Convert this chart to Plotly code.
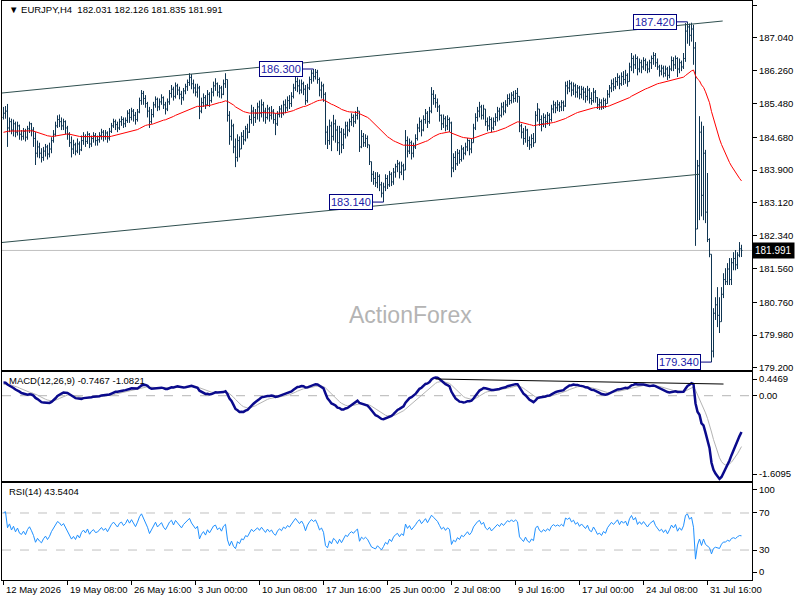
import plotly.graph_objects as go

# EURJPY H4 bars (open of each bar = previous close)
first_open = 185.15

close = [
    185.25, 185.30, 184.90, 185.05, 184.85, 185.00, 184.80, 184.95, 184.75, 184.70,
    184.82, 184.68, 184.88, 185.00, 184.85, 184.65, 184.30, 184.45, 184.30, 184.20,
    184.35, 184.45, 184.28, 184.40, 184.60, 184.75, 184.95, 185.10, 185.05, 184.95,
    185.05, 184.90, 184.75, 184.55, 184.40, 184.50, 184.35, 184.52, 184.38, 184.60,
    184.70, 184.58, 184.75, 184.52, 184.65, 184.72, 184.60, 184.62, 184.72, 184.80,
    184.70, 184.78, 184.66, 184.82, 184.95, 185.05, 184.98, 184.90, 185.05, 185.10,
    185.00, 185.08, 185.25, 185.15, 185.30, 185.20, 185.10, 185.28, 185.55, 185.72,
    185.60, 185.48, 185.30, 185.05, 185.22, 185.45, 185.58, 185.40, 185.52, 185.62,
    185.45, 185.35, 185.52, 185.72, 185.82, 185.65, 185.90, 185.80, 185.70, 185.62,
    185.78, 185.88, 185.98, 186.10, 185.95, 185.85, 185.75, 185.85, 185.30, 185.50,
    185.62, 185.45, 185.70, 185.55, 185.75, 185.90, 185.95, 185.75, 185.85, 185.70,
    185.95, 186.05, 185.20, 184.70, 184.95, 184.45, 184.20, 184.60, 184.40, 184.70,
    184.62, 184.88, 184.80, 185.10, 185.30, 185.15, 185.25, 185.40, 185.25, 185.45,
    185.30, 185.15, 185.35, 185.20, 185.30, 185.10, 185.00, 185.22, 185.35, 185.25,
    185.45, 185.38, 185.55, 185.48, 185.65, 185.85, 186.00, 185.90, 185.80, 185.95,
    185.82, 185.55, 185.85, 186.05, 186.20, 186.12, 186.22, 186.05, 185.80, 185.90,
    185.70, 184.80, 184.60, 184.95, 184.70, 185.00, 184.85, 184.55, 184.80, 184.50,
    184.75, 184.95, 184.85, 185.05, 185.15, 185.05, 185.20, 185.30, 184.45, 184.70,
    184.55, 184.65, 184.50, 184.10, 183.80, 183.70, 183.60, 183.75, 183.55, 183.35,
    183.50, 183.70, 183.55, 183.80, 183.62, 183.85, 183.98, 184.05, 183.85, 184.00,
    183.90, 184.60, 184.35, 184.55, 184.30, 184.45, 184.65, 184.90, 185.05, 184.85,
    185.10, 185.25, 185.05, 185.30, 185.70, 185.60, 185.50, 185.40, 185.20, 185.00,
    185.12, 184.95, 185.10, 185.02, 183.95, 184.20, 184.05, 184.30, 184.15, 184.40,
    184.30, 184.45, 184.60, 184.40, 184.55, 184.90, 185.15, 185.30, 185.40, 185.20,
    185.35, 185.05, 184.95, 185.10, 184.90, 185.05, 185.15, 185.30, 185.20, 185.40,
    185.30, 185.45, 185.60, 185.55, 185.68, 185.60, 185.72, 185.65, 184.95, 184.80,
    184.65, 184.85, 184.60, 184.50, 184.65, 184.55, 185.20, 185.35, 185.10, 185.00,
    185.15, 185.05, 185.20, 185.10, 185.35, 185.45, 185.38, 185.45, 185.40, 185.50,
    185.42, 185.90, 185.85, 185.95, 185.80, 185.90, 185.75, 185.85, 185.70, 185.82,
    185.75, 185.65, 185.80, 185.60, 185.55, 185.75, 185.62, 185.45, 185.50, 185.40,
    185.55, 185.48, 185.70, 185.85, 185.95, 185.88, 186.00, 186.10, 185.95, 186.12,
    186.05, 186.15, 186.00, 186.35, 186.55, 186.40, 186.55, 186.30, 186.45, 186.35,
    186.50, 186.40, 186.30, 186.45, 186.55, 186.62, 186.45, 186.35, 186.25, 186.32,
    186.20, 186.30, 186.15, 186.30, 186.50, 186.40, 186.55, 186.30, 186.45, 186.35,
    186.55, 187.20, 187.30, 187.10, 187.25, 186.80, 182.50, 184.00, 184.80, 183.30,
    184.30, 182.90, 182.25, 181.90, 179.60, 180.50, 180.70, 180.45, 180.30, 180.95,
    181.30, 181.25, 181.55, 181.30, 181.70, 181.80, 181.65, 181.88, 182.031, 181.991,
]

high = [
    185.40, 185.42, 185.47, 185.15, 185.12, 185.10, 185.05, 185.05, 184.98, 184.85,
    184.90, 184.88, 184.95, 185.05, 185.02, 184.92, 184.80, 184.60, 184.55, 184.42,
    184.45, 184.52, 184.50, 184.55, 184.68, 184.85, 185.05, 185.20, 185.22, 185.15,
    185.12, 185.08, 184.95, 184.80, 184.70, 184.62, 184.55, 184.65, 184.58, 184.72,
    184.80, 184.75, 184.82, 184.78, 184.72, 184.80, 184.78, 184.72, 184.80, 184.88,
    184.85, 184.85, 184.82, 184.90, 185.02, 185.12, 185.10, 185.05, 185.12, 185.18,
    185.15, 185.15, 185.32, 185.35, 185.38, 185.35, 185.28, 185.35, 185.62, 185.80,
    185.78, 185.68, 185.52, 185.40, 185.35, 185.52, 185.65, 185.62, 185.60, 185.70,
    185.65, 185.52, 185.60, 185.80, 185.92, 185.88, 185.98, 185.95, 185.88, 185.78,
    185.85, 185.95, 186.05, 186.20, 186.18, 186.05, 185.95, 185.95, 185.90, 185.62,
    185.72, 185.68, 185.80, 185.75, 185.85, 186.00, 186.08, 185.98, 185.92, 185.90,
    186.05, 186.20, 186.00, 185.30, 185.10, 185.00, 184.65, 184.75, 184.70, 184.80,
    184.85, 184.95, 185.00, 185.20, 185.45, 185.40, 185.35, 185.50, 185.55, 185.58,
    185.52, 185.38, 185.45, 185.40, 185.42, 185.35, 185.25, 185.30, 185.42, 185.45,
    185.55, 185.58, 185.65, 185.68, 185.75, 185.95, 186.12, 186.10, 186.05, 186.05,
    186.00, 185.92, 185.95, 186.12, 186.28, 186.30, 186.30, 186.28, 186.10, 186.00,
    185.95, 185.75, 184.95, 185.10, 185.05, 185.21, 185.10, 184.95, 184.95, 184.90,
    184.88, 185.05, 185.05, 185.12, 185.25, 185.22, 185.30, 185.40, 185.28, 184.85,
    184.78, 184.75, 184.72, 184.45, 183.95, 183.88, 183.85, 183.85, 183.80, 183.62,
    183.60, 183.80, 183.78, 183.88, 183.85, 183.95, 184.05, 184.14, 184.10, 184.10,
    184.05, 184.85, 184.70, 184.65, 184.60, 184.55, 184.75, 185.00, 185.15, 185.10,
    185.20, 185.35, 185.30, 185.40, 185.87, 185.80, 185.70, 185.60, 185.45, 185.22,
    185.22, 185.18, 185.20, 185.15, 185.05, 184.30, 184.35, 184.40, 184.38, 184.49,
    184.45, 184.55, 184.66, 184.62, 184.65, 185.00, 185.25, 185.40, 185.52, 185.45,
    185.45, 185.30, 185.15, 185.18, 185.15, 185.15, 185.25, 185.40, 185.38, 185.50,
    185.52, 185.56, 185.70, 185.72, 185.75, 185.78, 185.80, 185.85, 185.55, 185.00,
    184.90, 184.95, 184.88, 184.70, 184.75, 184.78, 185.30, 185.49, 185.33, 185.20,
    185.25, 185.22, 185.28, 185.25, 185.45, 185.55, 185.52, 185.56, 185.52, 185.56,
    185.55, 186.00, 186.02, 186.04, 186.00, 185.98, 185.95, 185.92, 185.90, 185.90,
    185.88, 185.85, 185.90, 185.85, 185.75, 185.85, 185.80, 185.63, 185.60, 185.58,
    185.62, 185.60, 185.80, 185.92, 186.05, 186.08, 186.11, 186.20, 186.15, 186.22,
    186.25, 186.28, 186.20, 186.45, 186.68, 186.62, 186.65, 186.60, 186.55, 186.52,
    186.58, 186.55, 186.48, 186.52, 186.62, 186.70, 186.68, 186.55, 186.40, 186.40,
    186.38, 186.38, 186.35, 186.38, 186.60, 186.58, 186.62, 186.58, 186.55, 186.50,
    186.68, 187.39, 187.42, 187.38, 187.40, 187.35, 186.94, 184.14, 185.18, 185.05,
    184.95, 184.38, 183.83, 182.28, 181.83, 180.62, 180.88, 181.12, 180.88, 181.12,
    181.45, 181.57, 181.69, 181.81, 181.81, 181.95, 182.00, 181.95, 182.19, 182.126,
]

low = [
    185.10, 185.12, 184.45, 184.80, 184.75, 184.70, 184.68, 184.72, 184.62, 184.60,
    184.62, 184.58, 184.62, 184.78, 184.70, 184.45, 184.02, 184.20, 184.18, 184.08,
    184.12, 184.22, 184.15, 184.20, 184.30, 184.55, 184.70, 184.90, 184.92, 184.85,
    184.85, 184.75, 184.62, 184.45, 184.20, 184.28, 184.25, 184.30, 184.26, 184.35,
    184.50, 184.45, 184.52, 184.42, 184.45, 184.55, 184.48, 184.48, 184.55, 184.62,
    184.58, 184.62, 184.55, 184.60, 184.78, 184.90, 184.85, 184.80, 184.85, 184.95,
    184.90, 184.92, 185.02, 185.02, 185.08, 185.05, 184.98, 185.05, 185.25, 185.45,
    185.45, 185.38, 185.15, 184.90, 185.00, 185.15, 185.38, 185.30, 185.32, 185.45,
    185.35, 185.22, 185.30, 185.45, 185.62, 185.55, 185.60, 185.68, 185.58, 185.45,
    185.55, 185.70, 185.78, 185.90, 185.82, 185.72, 185.65, 185.62, 185.11, 185.25,
    185.40, 185.35, 185.42, 185.40, 185.50, 185.65, 185.78, 185.65, 185.62, 185.60,
    185.68, 185.85, 185.05, 184.50, 184.60, 184.30, 183.97, 184.10, 184.20, 184.40,
    184.50, 184.58, 184.65, 184.78, 185.00, 184.95, 185.02, 185.10, 185.05, 185.15,
    185.05, 185.00, 185.10, 185.05, 185.10, 185.00, 184.73, 184.95, 185.15, 185.14,
    185.20, 185.25, 185.30, 185.35, 185.40, 185.60, 185.78, 185.75, 185.70, 185.72,
    185.68, 185.45, 185.50, 185.80, 185.95, 186.00, 186.05, 185.95, 185.65, 185.60,
    185.52, 184.50, 184.40, 184.50, 184.35, 184.60, 184.55, 184.35, 184.26, 184.30,
    184.40, 184.65, 184.70, 184.80, 184.95, 184.92, 185.00, 185.10, 184.33, 184.42,
    184.45, 184.45, 184.42, 184.02, 183.62, 183.55, 183.50, 183.47, 183.40, 183.25,
    183.14, 183.40, 183.45, 183.50, 183.52, 183.55, 183.72, 183.85, 183.70, 183.78,
    183.66, 183.90, 184.20, 184.28, 184.15, 184.20, 184.40, 184.60, 184.80, 184.70,
    184.82, 185.00, 184.90, 185.00, 185.25, 185.45, 185.38, 185.28, 185.05, 184.85,
    184.90, 184.82, 184.85, 184.80, 183.73, 183.85, 183.90, 184.00, 184.05, 184.10,
    184.15, 184.25, 184.35, 184.25, 184.30, 184.55, 184.85, 185.05, 185.15, 185.10,
    185.10, 184.95, 184.82, 184.85, 184.80, 184.85, 184.95, 185.05, 185.08, 185.15,
    185.20, 185.25, 185.40, 185.45, 185.48, 185.50, 185.52, 185.50, 184.80, 184.65,
    184.50, 184.55, 184.45, 184.38, 184.42, 184.45, 184.55, 185.05, 184.95, 184.82,
    184.92, 184.90, 184.98, 184.95, 185.05, 185.25, 185.25, 185.30, 185.28, 185.30,
    185.30, 185.40, 185.70, 185.75, 185.65, 185.68, 185.62, 185.62, 185.58, 185.60,
    185.56, 185.50, 185.55, 185.48, 185.45, 185.50, 185.50, 185.35, 185.33, 185.33,
    185.35, 185.38, 185.49, 185.62, 185.75, 185.78, 185.82, 185.90, 185.82, 185.90,
    185.92, 185.95, 185.88, 186.00, 186.25, 186.20, 186.30, 186.15, 186.22, 186.20,
    186.28, 186.25, 186.20, 186.22, 186.30, 186.40, 186.35, 186.28, 186.12, 186.15,
    186.10, 186.12, 186.04, 186.08, 186.25, 186.25, 186.30, 186.11, 186.20, 186.25,
    186.30, 186.47, 186.90, 186.85, 186.95, 186.40, 182.10, 182.64, 182.71, 182.80,
    182.71, 182.64, 182.19, 181.83, 179.34, 179.45, 180.34, 180.17, 180.03, 180.38,
    180.86, 181.17, 181.17, 181.17, 181.17, 181.52, 181.52, 181.55, 181.83, 181.835,
]

# indicator settings and their starting state at the left edge of the chart
ema_period = 55
ema_seed = 184.78
macd_fast_seed = 185.05
macd_slow_seed = 184.80
macd_signal_seed = 0.20
rsi_avg_gain_seed = 0.068
rsi_avg_loss_seed = 0.032

# axis labels
price_ticks = [187.82, 187.04, 186.26, 185.48, 184.68, 183.90, 183.12, 182.34, 181.56, 180.76, 179.98, 179.20]
macd_tick_text = ['0.4469', '0.00', '-1.6095']
rsi_tick_text = ['100', '70', '30', '0']
x_label_bars = [0, 32, 64, 96, 128, 160, 192, 224, 256, 288, 320, 352]
x_labels = ['12 May 2026', '19 May 08:00', '26 May 16:00', '3 Jun 00:00', '10 Jun 08:00', '17 Jun 16:00',
            '25 Jun 00:00', '2 Jul 08:00', '9 Jul 16:00', '17 Jul 00:00', '24 Jul 08:00', '31 Jul 16:00']

# swing high / low markers
marker_bars = [155, 190, 342, 354]
marker_values = [186.300, 183.140, 187.420, 179.340]

# channel lines drawn on the chart
upper_channel_bars = [-0.75, 359.6]
upper_channel_values = [185.73, 187.44]
lower_channel_bars = [-0.75, 347.9]
lower_channel_values = [182.18, 183.80]

# trend line on the MACD window
macd_trend_bars = [216, 360]
macd_trend_values = [0.315, 0.22]

last_price = 181.991

BAR_COLOR = '#0f3552'
FONT = 'Liberation Sans'


def ema(values, period, seed):
    k = 2.0 / (period + 1)
    out = []
    prev = seed
    for v in values:
        prev = prev + k * (v - prev)
        out.append(prev)
    return out


def rsi(values, period, prev_close, gain, loss):
    out = []
    prev = prev_close
    for v in values:
        ch = v - prev
        gain = (gain * (period - 1) + max(ch, 0)) / period
        loss = (loss * (period - 1) + max(-ch, 0)) / period
        out.append(100 - 100 / (1 + gain / loss))
        prev = v
    return out


bars = list(range(len(close)))
opens = [first_open] + close[:-1]
highs = [max(h, o, c) for h, o, c in zip(high, opens, close)]
lows = [min(l, o, c) for l, o, c in zip(low, opens, close)]

ema55 = ema(close, ema_period, ema_seed)
fast = ema(close, 12, macd_fast_seed)
slow = ema(close, 26, macd_slow_seed)
macd = [f - s for f, s in zip(fast, slow)]
signal = ema(macd, 9, macd_signal_seed)
rsi14 = rsi(close, 14, first_open, rsi_avg_gain_seed, rsi_avg_loss_seed)

fig = go.Figure()

# price window
fig.add_trace(go.Ohlc(
    x=bars, open=opens, high=highs, low=lows, close=close,
    increasing=dict(line=dict(color=BAR_COLOR, width=1)),
    decreasing=dict(line=dict(color=BAR_COLOR, width=1)),
    tickwidth=0.5, hoverinfo='skip', showlegend=False, xaxis='x', yaxis='y'))
fig.add_trace(go.Scatter(x=upper_channel_bars, y=upper_channel_values, mode='lines',
                         line=dict(color='#2f4f4f', width=1), showlegend=False))
fig.add_trace(go.Scatter(x=lower_channel_bars, y=lower_channel_values, mode='lines',
                         line=dict(color='#2f4f4f', width=1), showlegend=False))
fig.add_trace(go.Scatter(x=bars, y=ema55, mode='lines',
                         line=dict(color='#ff0000', width=1), showlegend=False))

# MACD window
fig.add_trace(go.Scatter(x=bars, y=signal, mode='lines', line=dict(color='#b4b4b4', width=1),
                         showlegend=False, xaxis='x2', yaxis='y2'))
fig.add_trace(go.Scatter(x=bars, y=macd, mode='lines', line=dict(color='#0a0a8c', width=2.5),
                         showlegend=False, xaxis='x2', yaxis='y2'))
fig.add_trace(go.Scatter(x=macd_trend_bars, y=macd_trend_values, mode='lines',
                         line=dict(color='black', width=1), showlegend=False, xaxis='x2', yaxis='y2'))

# RSI window
fig.add_trace(go.Scatter(x=bars, y=rsi14, mode='lines', line=dict(color='#1e90ff', width=1),
                         showlegend=False, xaxis='x3', yaxis='y3'))

xrange = [-0.75, 374.25]
common_x = dict(range=xrange, showgrid=False, zeroline=False, showline=True, mirror=True,
                linecolor='black', linewidth=1, showticklabels=False)
common_y = dict(showgrid=False, zeroline=False, showline=True, mirror=True, linecolor='black',
                linewidth=1, side='right', ticks='outside', ticklen=4, tickcolor='black',
                tickfont=dict(family=FONT, size=9.5, color='black'))

fig.update_layout(
    width=800, height=600,
    margin=dict(l=2, r=48, t=1, b=20),
    plot_bgcolor='white', paper_bgcolor='white',
    font=dict(family=FONT, size=9.5, color='black'),
    hovermode=False,
    xaxis=dict(common_x, anchor='y', rangeslider=dict(visible=False), ticks=''),
    xaxis2=dict(common_x, anchor='y2', matches='x', ticks=''),
    xaxis3=dict(common_x, anchor='y3', matches='x', tickvals=x_label_bars, ticks='outside',
                ticklen=4, tickcolor='black'),
    yaxis=dict(common_y, domain=[0.3627, 1], range=[179.152, 187.915],
               tickvals=price_ticks, ticktext=['%.3f' % v for v in price_ticks]),
    yaxis2=dict(common_y, domain=[0.171, 0.3592], range=[-1.6095, 0.4469],
                tickvals=[0.315, 0.0, -1.478], ticktext=macd_tick_text),
    yaxis3=dict(common_y, domain=[0, 0.1675], range=[-2.4, 102.4],
                tickvals=[94.9, 70, 30, 6.2], ticktext=rsi_tick_text),
)

# level lines
fig.add_shape(type='line', xref='x', yref='y', x0=xrange[0], x1=xrange[1], y0=last_price, y1=last_price,
              line=dict(color='#c0c0c0', width=1), layer='below')
fig.add_shape(type='line', xref='x2', yref='y2', x0=xrange[0], x1=xrange[1], y0=0, y1=0,
              line=dict(color='#b4b4b4', width=1, dash='dash'), layer='below')
for lvl in [70, 30]:
    fig.add_shape(type='line', xref='x3', yref='y3', x0=xrange[0], x1=xrange[1], y0=lvl, y1=lvl,
                  line=dict(color='#c0c0c0', width=1, dash='dash'), layer='below')

# swing labels with their connector lines
gap = 5.5
for b, v in zip(marker_bars, marker_values):
    fig.add_shape(type='line', xref='x', yref='y', x0=b - gap, x1=b, y0=v, y1=v,
                  line=dict(color='#000080', width=1))
    fig.add_annotation(x=b - gap, y=v, xref='x', yref='y', xanchor='right', yanchor='middle',
                       text='%.3f' % v, showarrow=False, bgcolor='white', bordercolor='#000080',
                       borderwidth=1, borderpad=1, font=dict(family=FONT, size=11, color='#1c1ca8'))

# current price tag
fig.add_annotation(x=1, y=last_price, xref='paper', yref='y', xanchor='left', yanchor='middle',
                   text='%.3f' % last_price, showarrow=False, bgcolor='black', borderpad=2,
                   font=dict(family=FONT, size=10, color='white'))

# window titles and watermark
fig.add_annotation(x=0.0067, y=0.9845, xref='paper', yref='paper', xanchor='left', yanchor='middle',
                   text='▼ EURJPY,H4  182.031 182.126 181.835 181.991', showarrow=False,
                   font=dict(family=FONT, size=9.5, color='black'))
fig.add_annotation(x=0.0067, y=0.3437, xref='paper', yref='paper', xanchor='left', yanchor='middle',
                   text='MACD(12,26,9) -0.7467 -1.0821', showarrow=False,
                   font=dict(family=FONT, size=9.5, color='black'))
fig.add_annotation(x=0.0067, y=0.152, xref='paper', yref='paper', xanchor='left', yanchor='middle',
                   text='RSI(14) 43.5404', showarrow=False,
                   font=dict(family=FONT, size=9.5, color='black'))
fig.add_annotation(x=0.544, y=0.4577, xref='paper', yref='paper', xanchor='center', yanchor='middle',
                   text='ActionForex', showarrow=False,
                   font=dict(family=FONT, size=23, color='#b4b4b4'))

# time labels, left aligned on their tick like the terminal draws them
for b, lab in zip(x_label_bars, x_labels):
    fig.add_annotation(x=b, y=0, xref='x3', yref='paper', xanchor='left', yanchor='top',
                       xshift=0, yshift=-2, text=lab, showarrow=False,
                       font=dict(family=FONT, size=9.5, color='black'))

# no toolbar, and no default page margin so the chart sits at the window corner
fig.write_html("out.html", config={'displayModeBar': False},
               post_script="document.body.style.margin='0';")
